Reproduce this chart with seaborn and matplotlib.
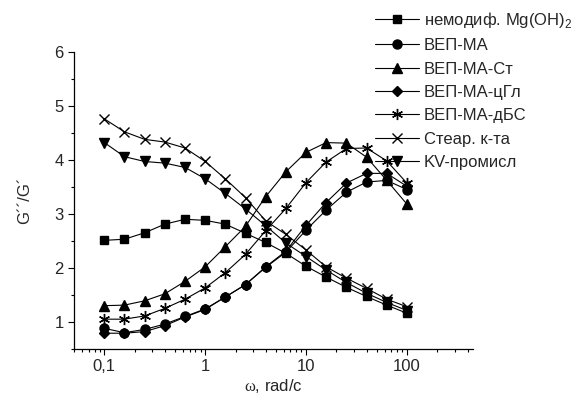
import numpy as np
import pandas as pd
import matplotlib
matplotlib.use("Agg")
import matplotlib.pyplot as plt
import matplotlib.ticker as mticker
import seaborn as sns

# frequency, rad/c
omega = [0.1, 0.158, 0.251, 0.398, 0.631, 1.0, 1.58, 2.51, 3.98, 6.31, 10, 15.8, 25.1, 39.8, 63.1, 100]

unmod = [2.51, 2.53, 2.65, 2.81, 2.90, 2.88, 2.81, 2.64, 2.47, 2.27, 2.03, 1.83, 1.64, 1.47, 1.31, 1.16]
vep_ma = [0.88, 0.80, 0.86, 0.96, 1.10, 1.24, 1.46, 1.69, 2.01, 2.29, 2.70, 3.07, 3.40, 3.59, 3.62, 3.45]
vep_ma_st = [1.30, 1.31, 1.39, 1.52, 1.75, 2.02, 2.39, 2.77, 3.32, 3.78, 4.14, 4.32, 4.31, 4.05, 3.62, 3.18]
vep_ma_cgl = [0.79, 0.79, 0.82, 0.93, 1.09, 1.23, 1.46, 1.69, 2.02, 2.31, 2.79, 3.21, 3.57, 3.75, 3.75, 3.51]
vep_ma_dbs = [1.05, 1.05, 1.11, 1.25, 1.42, 1.63, 1.91, 2.25, 2.69, 3.10, 3.58, 3.96, 4.21, 4.22, 3.98, 3.57]
stear = [4.76, 4.52, 4.38, 4.33, 4.22, 3.97, 3.65, 3.30, 2.87, 2.62, 2.33, 2.02, 1.81, 1.62, 1.42, 1.28]
kv = [4.32, 4.06, 3.97, 3.94, 3.86, 3.65, 3.38, 3.09, 2.78, 2.46, 2.21, 1.96, 1.73, 1.53, 1.36, 1.21]

labels = ["немодиф. Mg(OH)$_\\mathregular{2}$", "ВЕП-МА", "ВЕП-МА-Ст", "ВЕП-МА-цГл",
          "ВЕП-МА-дБС", "Стеар. к-та", "KV-промисл"]
series = [unmod, vep_ma, vep_ma_st, vep_ma_cgl, vep_ma_dbs, stear, kv]
markers = ["s", "o", "^", "D", (6, 2, 0), "x", "v"]
msizes = [6, 6.5, 7, 5.5, 8, 7, 7]

sns.set_style("ticks")
plt.rcParams['font.family'] = ['Liberation Sans', 'DejaVu Sans']
plt.rcParams['mathtext.fontset'] = 'custom'
plt.rcParams['mathtext.rm'] = 'Liberation Serif'

rows = []
for lab, vals in zip(labels, series):
    for w, v in zip(omega, vals):
        rows.append((lab, w, v))
df = pd.DataFrame(rows, columns=["series", "omega", "ratio"])

fig = plt.figure(figsize=(5.78, 3.96), dpi=100)
ax = fig.add_axes([0.128, 0.119, 0.690, 0.750])
ax.set_xscale("log")

for lab, m, ms in zip(labels, markers, msizes):
    sns.lineplot(data=df[df["series"] == lab], x="omega", y="ratio", ax=ax,
                 color="black", marker=m, markersize=ms, markeredgecolor="black",
                 markeredgewidth=1.0, linewidth=0.8, label=lab, legend=False)

ax.set_xlim(0.05, 450)
ax.set_ylim(0.5, 6)
ax.xaxis.set_major_locator(mticker.FixedLocator([0.1, 1, 10, 100]))
ax.xaxis.set_major_formatter(mticker.FixedFormatter(["0,1", "1", "10", "100"]))
ax.xaxis.set_minor_locator(mticker.LogLocator(base=10, subs=np.arange(2, 10)))
ax.xaxis.set_minor_formatter(mticker.NullFormatter())
ax.yaxis.set_major_locator(mticker.MultipleLocator(1))
ax.yaxis.set_minor_locator(mticker.MultipleLocator(0.5))
ax.tick_params(which="major", length=4, width=0.8, labelsize=12, color="black")
ax.tick_params(which="minor", length=2.5, width=0.8, color="black")
for s in ["top", "right"]:
    ax.spines[s].set_visible(False)
for s in ["left", "bottom"]:
    ax.spines[s].set_color("black")
    ax.spines[s].set_linewidth(0.9)

ax.set_xlabel("$\\mathrm{\\omega}$, rad/c", fontsize=12, labelpad=2)
ax.set_ylabel("G´´/G´", fontsize=12, labelpad=16)

handles, labs = ax.get_legend_handles_labels()
ax.legend(handles, labs, loc="upper left", bbox_to_anchor=(0.648, 0.975),
          bbox_transform=fig.transFigure, frameon=False, fontsize=12,
          handlelength=2.65, handletextpad=0.3, labelspacing=0.5, borderpad=0,
          borderaxespad=0)

plt.savefig("out.png", dpi=100)
